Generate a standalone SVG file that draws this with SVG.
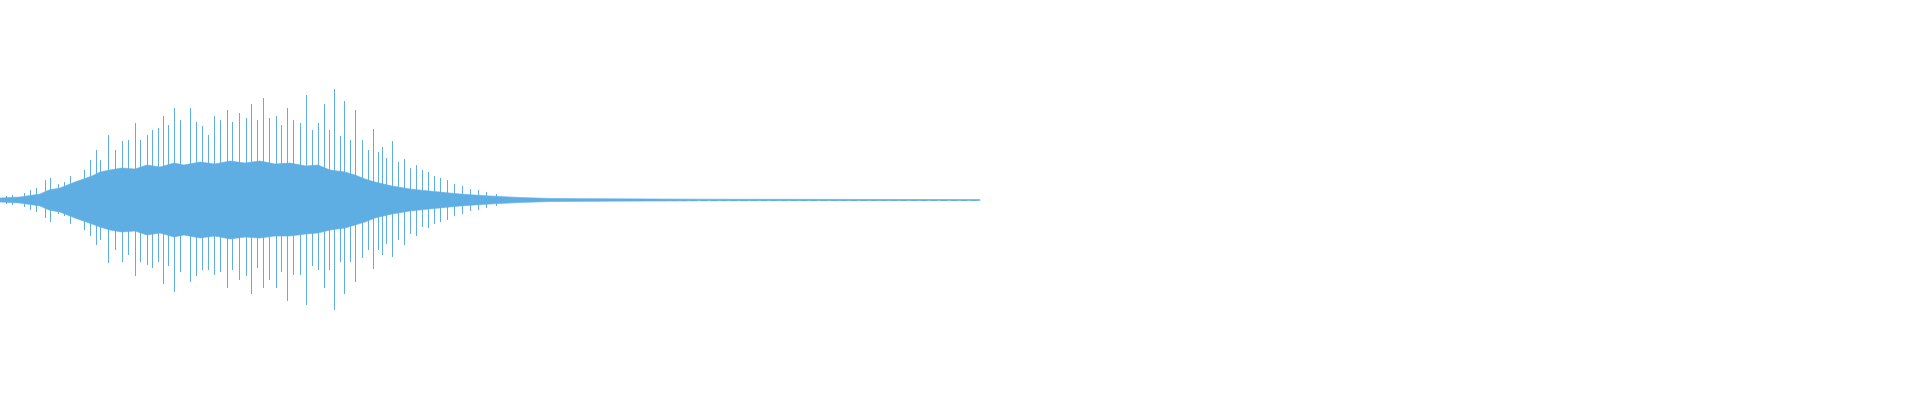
<svg xmlns="http://www.w3.org/2000/svg" width="1920" height="400" viewBox="0 0 1920 400">
<style>
.w{stroke:#5FAEE3;stroke-width:1;fill:none;shape-rendering:crispEdges}
.f{fill:#5FAEE3;stroke:#5FAEE3;stroke-width:0.6}
</style>
<rect width="1920" height="400" fill="#ffffff"/>
<g id="waveform">
<path class="f" d="M0 198 L20 197 L40 194 L49 190 L60 188 L75 182 L92 176 L100 172 L110 170 L122 168 L135 169 L147 165 L160 167 L174 163 L184 165 L200 162 L215 164 L230 161 L245 163 L260 161 L275 164 L290 163 L306 166 L318 165 L330 170 L345 172 L355 175 L365 179 L375 182 L392 186 L410 189 L429 191 L460 194 L490 196 L520 197.5 L551 198.5 L700 199.2 L980 199.6 L980 200.4 L700 200.8 L551 201.5 L520 202.5 L490 204 L460 206 L429 209 L410 211 L392 214 L375 218 L365 222 L355 225 L345 228 L330 230 L318 233 L306 234 L290 236 L275 236 L260 238 L245 237 L230 239 L215 236 L200 238 L184 235 L174 237 L160 233 L147 235 L135 231 L122 232 L110 230 L100 227 L92 224 L75 218 L60 212 L49 210 L40 206 L20 203 L0 202 Z"/>
<path class="w" d="M334 89V310 M306 95V305 M287 108V301 M174 108V292 M135 123V276 M163 116V284 M344 101V294 M373 129V269 M392 141V257 M108 135V263 M96 150V245 M190 108V282 M251 104V294 M263 98V288 M276 116V288 M324 104V288 M227 110V288 M239 113V280 M214 116V275 M355 110V282 M318 123V270 M300 123V275 M208 135V270 M147 135V265 M122 141V262 M422 170V227 M404 159V245 M382 147V255
M100 160V240 M115 150V250 M128 140V255 M140 140V262 M152 130V268 M158 128V262 M168 125V266 M180 120V272 M196 122V276 M202 126V270 M220 120V272 M232 122V270 M246 118V276 M257 120V268 M269 118V280 M281 125V272 M293 120V275 M312 130V266 M329 130V270 M340 136V262 M350 140V262 M362 140V258 M368 150V250 M378 152V250 M386 158V244 M398 162V240 M410 168V234 M416 165V236 M428 172V228 M434 176V224 M440 178V222 M447 180V220 M454 184V216 M462 186V214 M470 189V211 M478 190V210 M486 192V208 M496 194V206
M45 180V218 M50 178V222 M58 184V214 M64 182V216 M70 176V224 M84 170V230 M90 160V236 M30 190V210 M36 188V212 M24 193V207 M12 195V205 M6 196V204"/>
<path class="w" d="M551 200H980" stroke-dasharray="6 4"/>
</g>
</svg>
